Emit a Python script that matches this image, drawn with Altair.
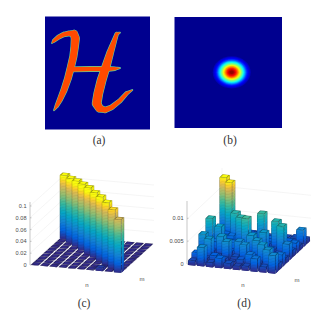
import altair as alt
import pandas as pd

# ---- panel (a): calligraphic H, stroke centre-lines (stroke id, x, y, width) in image units
H1_x = [36, 42, 55, 70, 88, 102, 106, 104, 100, 93, 84, 72, 60, 50, 42]
H1_y = [99, 92, 82, 74, 70, 72, 85, 110, 140, 170, 205, 240, 268, 288, 301]
H1_w = [2, 9, 12, 13, 14, 22, 24, 22, 21, 21, 20, 18, 15, 10, 2]
H2_x = [90, 150, 200, 225, 240]
H2_y = [178, 177, 177, 176, 174]
H2_w = [14, 14, 14, 10, 2]
H3_x = [240, 230, 222, 210, 198, 185, 175, 170, 178, 195, 215, 240, 260, 277]
H3_y = [68, 72, 95, 130, 170, 210, 250, 280, 295, 300, 292, 272, 250, 240]
H3_w = [2, 10, 14, 20, 24, 26, 26, 26, 22, 16, 14, 12, 10, 2]

# ---- panel (b): concentric level sets of the blob
ring_r = [19, 18, 17, 16, 15, 14, 13, 12, 11, 10, 9, 8, 7, 6, 5, 4, 3, 2]
ring_v = [.05, .08, .11, .15, .2, .27, .33, .4, .47, .52, .6, .66, .73, .79, .85, .9, .94, .98]

# ---- panel (c): bar heights, rows j = 0 (front) .. 9 (back), columns i = 0 .. 9
c_vals = [
    [.0004, .0004, .0004, .0004, .0004, .0004, .0010, .0050, .0006, .0895],
    [.0004, .0004, .0004, .0004, .0004, .0004, .0004, .0010, .1000, .0006],
    [.0004, .0004, .0004, .0004, .0004, .0006, .0006, .1060, .0004, .0006],
    [.0004, .0004, .0004, .0004, .0004, .0004, .1090, .0004, .0004, .0004],
    [.0004, .0004, .0004, .0004, .0004, .1100, .0004, .0004, .0004, .0004],
    [.0004, .0004, .0004, .0004, .1120, .0004, .0004, .0004, .0004, .0004],
    [.0004, .0004, .0004, .1120, .0004, .0004, .0004, .0004, .0004, .0004],
    [.0004, .0004, .1110, .0004, .0004, .0004, .0004, .0004, .0004, .0004],
    [.0004, .1090, .0004, .0004, .0004, .0004, .0004, .0004, .0004, .0004],
    [.1080, .0004, .0004, .0004, .0004, .0004, .0004, .0004, .0004, .0004],
]
# ---- panel (d): bar heights (x 1e-3), same layout
d_vals = [
    [1.0, 4.1, 1.0, 2.1, 1.2, 0.8, 1.0, 2.8, 1.2, 3.9],
    [2.0, 1.0, 1.8, 1.2, 0.8, 1.5, 2.8, 1.0, 4.2, 1.4],
    [1.5, 4.5, 1.0, 4.3, 1.2, 4.0, 1.5, 4.4, 1.0, 2.6],
    [4.6, 1.2, 4.5, 1.5, 3.8, 1.2, 4.4, 1.0, 1.6, 1.2],
    [2.0, 2.5, 1.5, 2.6, 1.5, 4.6, 1.4, 2.0, 1.2, 3.5],
    [6.6, 5.0, 2.0, 1.4, 7.4, 1.6, 4.7, 1.2, 6.5, 1.4],
    [1.5, 2.0, 2.5, 6.7, 1.6, 2.0, 1.5, 6.6, 1.2, 2.3],
    [1.0, 2.0, 6.7, 1.5, 2.4, 7.2, 2.0, 1.5, 1.8, 1.0],
    [2.0, 12.5, 1.5, 1.2, 1.5, 1.0, 1.4, 1.2, 1.0, 3.7],
    [12.7, 2.0, 1.0, 1.2, 1.5, 0.8, 1.4, 1.0, 1.2, 1.0],
]

c_ticks = [0, .02, .04, .06, .08, .1]
c_tick_text = ["0", "0.02", "0.04", "0.06", "0.08", "0.1"]
d_ticks = [0, .005, .01]
d_tick_text = ["0", "0.005", "0.01"]

captions = ["(a)", "(b)", "(c)", "(d)"]
caption_x = [99, 230, 84, 244]
caption_y = [141, 141, 304, 304]
axis_names = ["n", "m", "n", "m"]
axis_name_x = [87, 142, 243, 297]
axis_name_y = [285, 279, 285, 280]

parula_t = [0, .143, .286, .429, .571, .714, .857, .93, 1]
parula_c = [(53, 42, 135), (3, 99, 225), (20, 133, 212), (6, 167, 198), (56, 185, 158),
            (146, 191, 115), (217, 186, 86), (252, 206, 46), (249, 251, 14)]
jet_t = [0, .125, .375, .625, .875, 1]
jet_c = [(0, 0, 143), (0, 0, 255), (0, 255, 255), (255, 255, 0), (255, 0, 0), (128, 0, 0)]


def ramp(v, ts, cs, k=1.0):
    v = max(0.0, min(1.0, v))
    for n in range(len(ts) - 1):
        if v <= ts[n + 1]:
            f = (v - ts[n]) / (ts[n + 1] - ts[n])
            rgb = [cs[n][m] + f * (cs[n + 1][m] - cs[n][m]) for m in range(3)]
            break
    return "#%02x%02x%02x" % tuple(int(c * k) for c in rgb)


xs = alt.Scale(domain=[8, 314], nice=False, zero=False)
ys = alt.Scale(domain=[318, 8], nice=False, zero=False)
X = alt.X("x:Q", scale=xs, axis=None)
Y = alt.Y("y:Q", scale=ys, axis=None)
COL = alt.Color("c:N", scale=None)


# ---------- images
rects = pd.DataFrame({"x": [45, 174.5], "x2": [150, 282], "y": [16.5, 17], "y2": [129.5, 128], "c": ["#00008f"] * 2})
rect_layer = alt.Chart(rects).mark_rect().encode(X, x2="x2:Q", y=Y, y2="y2:Q", color=COL)

rows = []
for sid, (a, b, w) in enumerate([(H1_x, H1_y, H1_w), (H2_x, H2_y, H2_w), (H3_x, H3_y, H3_w)]):
    for o, (p, q, r) in enumerate(zip(a, b, w)):
        rows.append({"s": sid, "o": o, "x": 40 + p / 3, "y": 10 + q / 3, "w": r / 3})
hdf = pd.DataFrame(rows)
hdf["w_edge"] = hdf["w"] + 1.1


def trail(size_field, colour):
    return alt.Chart(hdf).mark_trail(color=colour).encode(
        X, Y, order="o:Q", detail="s:N", size=alt.Size(size_field + ":Q", scale=None))


h_edge = trail("w_edge", "#58d8a0")
h_fill = trail("w", "#ff4a00")

ell = pd.DataFrame({"x": [231.7] * len(ring_r), "y": [72.3] * len(ring_r),
                    "s": [4 * r * r for r in ring_r],
                    "c": [ramp(v, jet_t, jet_c) for v in ring_v]})
ell_layer = alt.Chart(ell).mark_point(
    filled=True, opacity=1,
    shape="M-1,0A1,0.85,0,1,0,1,0A1,0.85,0,1,0,-1,0Z",
).encode(X, Y, size=alt.Size("s:Q", scale=None), color=COL, order=alt.Order("s:Q", sort="descending"))


# ---------- 3-D bars
def bars(vals, ox, oy, enx, eny, emx, emy, zs, clim, wn, wm):
    out = []
    gid = [0]

    def pr(a, b):
        return ox + enx * a + emx * b, oy + eny * a + emy * b

    def band(A, B, top, bot, col):
        gid[0] += 1
        out.append({"g": gid[0], "x": A[0], "y": A[1] - top, "y2": A[1] - bot, "c": col})
        out.append({"g": gid[0], "x": B[0], "y": B[1] - top, "y2": B[1] - bot, "c": col})

    def cap(P0, P1, P2, P3, col):
        gid[0] += 1
        sl_b = (P1[1] - P0[1]) / (P1[0] - P0[0])
        for x, t, b in [
            (P0[0], P0[1], P0[1]),
            (P3[0], P3[1], P0[1] + sl_b * (P3[0] - P0[0])),
            (P1[0], P3[1] + sl_b * (P1[0] - P3[0]), P1[1]),
            (P2[0], P2[1], P2[1]),
        ]:
            out.append({"g": gid[0], "x": x, "y": t, "y2": b, "c": col})

    for j in range(9, -1, -1):
        for i in range(10):
            h = vals[j][i]
            H = h * zs
            a0, a1 = i + .5 - wn / 2, i + .5 + wn / 2
            b0, b1 = j + .5 - wm / 2, j + .5 + wm / 2
            P0, P1, P2, P3 = pr(a0, b0), pr(a1, b0), pr(a1, b1), pr(a0, b1)
            for A, B in ((P0, P1), (P1, P2)):
                z = 0.0
                while z < H:
                    z1 = min(H, z + 8)
                    band(A, B, z1, z, ramp((z + z1) / 2 / zs / clim, parula_t, parula_c, .62))
                    z = z1
                ins = .45
                dx = (B[0] - A[0])
                f = ins / dx
                A2 = (A[0] + (B[0] - A[0]) * f, A[1] + (B[1] - A[1]) * f)
                B2 = (B[0] - (B[0] - A[0]) * f, B[1] - (B[1] - A[1]) * f)
                z = 0.0
                while z < H:
                    z1 = min(H, z + 1.5)
                    band(A2, B2, min(H, z1 + .3), z, ramp((z + z1) / 2 / zs / clim, parula_t, parula_c))
                    z = z1
            lift = lambda P, s=1.0: (P[0], P[1] - H)
            Q0, Q1, Q2, Q3 = lift(P0), lift(P1), lift(P2), lift(P3)
            col = ramp(h / clim, parula_t, parula_c)
            cap(Q0, Q1, Q2, Q3, ramp(h / clim, parula_t, parula_c, .62))
            cx = (Q0[0] + Q2[0]) / 2
            cy = (Q0[1] + Q2[1]) / 2
            sh = lambda Q: (cx + (Q[0] - cx) * .72, cy + (Q[1] - cy) * .72)
            cap(sh(Q0), sh(Q1), sh(Q2), sh(Q3), col)
    return pd.DataFrame(out)


def bar_layer(df):
    return alt.Chart(df).mark_area(orient="vertical", opacity=1).encode(
        X, alt.Y("y:Q", scale=ys, axis=None, stack=None), y2="y2:Q", color=COL, detail="g:Q")


def grid(ox, oy, enx, eny, emx, emy, zs, ticks, top):
    rows = []
    n = 0
    bx, by = ox + 10 * emx, oy + 10 * emy
    rx, ry = bx + 10 * enx, by + 10 * eny
    for z in ticks:
        p = z * zs
        n += 1
        rows += [{"g": n, "o": 0, "x": ox, "y": oy - p}, {"g": n, "o": 1, "x": bx, "y": by - p}, {"g": n, "o": 2, "x": rx, "y": ry - p}]
    n += 1
    rows += [{"g": n, "o": 0, "x": bx, "y": by}, {"g": n, "o": 1, "x": bx, "y": by - top}]
    return alt.Chart(pd.DataFrame(rows)).mark_line(color="#eeeeee", strokeWidth=.6).encode(X, Y, detail="g:N", order="o:Q")


def axis(ox, oy, zs, ticks, labels, top):
    line = pd.DataFrame({"g": [0, 0], "o": [0, 1], "x": [ox, ox], "y": [oy, oy - top]})
    t_rows = []
    for k, z in enumerate(ticks):
        t_rows += [{"g": k + 1, "o": 0, "x": ox, "y": oy - z * zs}, {"g": k + 1, "o": 1, "x": ox + 1.5, "y": oy - z * zs}]
    all_rows = pd.concat([line, pd.DataFrame(t_rows)])
    l = alt.Chart(all_rows).mark_line(color="#b0b0b0", strokeWidth=.7).encode(X, Y, detail="g:N", order="o:Q")
    tx = pd.DataFrame({"x": [ox - 3.5] * len(ticks), "y": [oy - z * zs for z in ticks], "t": labels})
    txt = alt.Chart(tx).mark_text(align="right", baseline="middle", font="Liberation Sans", fontSize=5.6, color="#4a4a4a").encode(X, Y, text="t:N")
    return l + txt


cg = (30, 265, 9.2, .8, 3.2, -2.9)
dg = (187, 265, 8.9, .9, 3.5, -3.3)
c_df = bars(c_vals, *cg, 590, .105, .82, .9)
d_rows = [[v / 1000 for v in r] for r in d_vals]
d_df = bars(d_rows, *dg, 4570, .0127, .82, .9)

cap_df = pd.DataFrame({"x": caption_x, "y": caption_y, "t": captions})
cap_layer = alt.Chart(cap_df).mark_text(font="Liberation Serif", fontSize=11.5, color="#333333", baseline="middle").encode(X, Y, text="t:N")
nm_df = pd.DataFrame({"x": axis_name_x, "y": axis_name_y, "t": axis_names})
nm_layer = alt.Chart(nm_df).mark_text(font="Liberation Sans", fontSize=6, color="#4a4a4a", baseline="middle").encode(X, Y, text="t:N")

chart = alt.layer(
    rect_layer, h_edge, h_fill, ell_layer,
    grid(*cg, 590, c_ticks, 63), axis(30, 265, 590, c_ticks, c_tick_text, 63), bar_layer(c_df),
    grid(*dg, 4570, d_ticks, 64), axis(187, 264, 4570, d_ticks, d_tick_text, 63), bar_layer(d_df),
    cap_layer, nm_layer,
).properties(width=306, height=310, padding=0, autosize=alt.AutoSizeParams(type="none")).configure_view(stroke=None)

chart.save("out.html", embed_options={"renderer": "svg", "actions": False})
